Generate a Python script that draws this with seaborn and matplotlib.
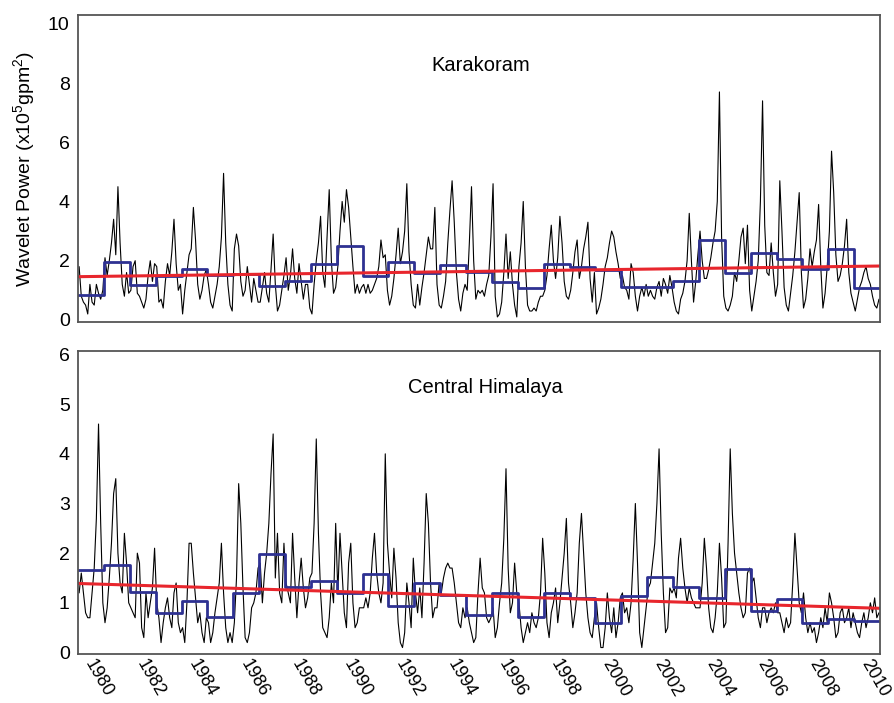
import numpy as np
import pandas as pd
import matplotlib
matplotlib.use("Agg")
import matplotlib.pyplot as plt
import matplotlib.transforms as mtransforms
import seaborn as sns

# monthly wavelet power (x10^5 gpm^2), Jan 1979 .. Dec 2009
karakoram_monthly = [
    1.8, 0.8, 0.6, 0.5, 0.2, 1.2, 0.6, 0.5, 1.2, 0.9, 0.7, 1.0,   # 1979
    2.1, 1.5, 2.0, 2.6, 3.4, 2.2, 4.5, 2.6, 1.2, 0.8, 1.6, 0.9,   # 1980
    1.0, 1.8, 2.0, 0.9, 0.8, 0.6, 0.4, 0.7, 1.5, 2.0, 1.3, 1.9,   # 1981
    1.8, 0.6, 0.7, 0.4, 1.3, 1.9, 1.5, 2.3, 3.4, 1.9, 1.0, 1.2,   # 1982
    0.2, 1.0, 1.6, 2.2, 2.4, 3.8, 2.7, 1.2, 0.7, 1.0, 1.5, 1.7,   # 1983
    1.2, 0.6, 0.4, 0.8, 1.2, 1.8, 2.8, 4.95, 2.6, 1.2, 0.5, 0.3,  # 1984
    2.4, 2.9, 2.5, 1.3, 0.8, 1.0, 1.8, 1.2, 0.6, 1.4, 1.0, 0.6,   # 1985
    0.6, 1.1, 1.6, 0.9, 0.6, 1.7, 2.9, 1.2, 0.3, 0.5, 1.0, 1.5,   # 1986
    2.1, 1.0, 1.5, 2.4, 1.4, 0.9, 1.9, 1.3, 0.7, 1.2, 1.2, 0.4,   # 1987
    0.2, 1.2, 2.0, 2.6, 3.5, 1.6, 1.1, 2.8, 4.4, 2.0, 0.9, 1.1,   # 1988
    1.8, 3.0, 4.0, 3.3, 4.4, 3.8, 2.8, 1.8, 0.9, 1.2, 0.9, 1.1,   # 1989
    1.2, 0.9, 1.2, 0.9, 1.0, 1.2, 1.4, 1.8, 2.7, 2.1, 2.2, 1.0,   # 1990
    0.5, 0.8, 1.4, 2.2, 3.1, 1.9, 2.3, 3.0, 4.6, 2.3, 1.2, 0.5,   # 1991
    0.4, 1.2, 0.5, 1.1, 1.6, 2.2, 2.8, 2.4, 2.4, 3.8, 1.2, 0.5,   # 1992
    0.4, 0.8, 1.3, 2.6, 3.7, 4.7, 3.3, 1.6, 0.7, 0.3, 0.9, 1.2,   # 1993
    1.0, 2.6, 4.5, 2.0, 0.7, 1.0, 0.9, 1.0, 0.8, 1.2, 1.5, 2.8,   # 1994
    4.6, 0.8, 0.1, 0.2, 0.6, 1.6, 2.9, 1.4, 2.3, 1.2, 0.5, 0.1,   # 1995
    1.8, 2.6, 4.0, 1.8, 0.5, 0.3, 0.3, 0.4, 0.3, 0.6, 0.8, 0.8,   # 1996
    1.0, 1.5, 2.4, 3.2, 2.0, 1.4, 2.1, 3.5, 2.6, 1.3, 0.8, 0.7,   # 1997
    1.0, 1.6, 2.3, 2.7, 1.4, 1.8, 2.4, 2.8, 3.3, 1.4, 0.6, 1.6,   # 1998
    0.2, 0.4, 0.7, 1.2, 1.8, 2.1, 2.6, 3.0, 2.8, 2.3, 1.9, 1.4,   # 1999
    1.5, 1.1, 1.0, 0.7, 1.9, 1.6, 0.8, 0.3, 0.8, 1.1, 0.8, 1.2,   # 2000
    0.8, 1.0, 0.8, 0.7, 1.1, 1.3, 0.8, 1.4, 1.2, 0.9, 1.5, 1.1,   # 2001
    0.6, 0.3, 0.2, 0.7, 0.9, 1.3, 2.0, 3.6, 2.0, 0.6, 1.3, 2.2,   # 2002
    3.0, 2.0, 1.4, 1.4, 1.7, 2.1, 2.6, 3.0, 4.0, 7.7, 2.8, 0.8,   # 2003
    0.4, 0.3, 0.5, 0.8, 1.6, 1.3, 2.0, 2.8, 3.1, 1.9, 3.2, 1.0,   # 2004
    0.3, 0.8, 1.3, 2.0, 4.0, 7.4, 3.2, 1.6, 1.5, 2.6, 1.6, 0.8,   # 2005
    1.2, 4.7, 3.0, 1.1, 0.5, 0.3, 0.9, 1.5, 2.3, 3.3, 4.3, 1.6,   # 2006
    0.4, 0.7, 1.4, 2.4, 1.8, 2.3, 2.7, 3.9, 1.8, 0.4, 0.9, 1.8,   # 2007
    3.0, 5.7, 4.3, 2.2, 1.3, 1.5, 1.9, 2.5, 3.4, 1.6, 0.9, 0.6,   # 2008
    0.3, 0.7, 1.1, 1.3, 1.6, 1.8, 1.4, 1.2, 0.8, 0.5, 0.4, 0.7,   # 2009
]

himalaya_monthly = [
    1.2, 1.6, 1.2, 0.8, 0.7, 0.7, 1.2, 1.7, 2.7, 4.6, 2.6, 1.0,   # 1979
    0.6, 0.9, 1.5, 2.2, 3.2, 3.5, 2.0, 1.4, 1.2, 2.4, 1.8, 1.0,   # 1980
    0.9, 0.8, 0.7, 2.0, 1.8, 0.5, 0.3, 1.2, 0.7, 1.0, 1.3, 2.1,   # 1981
    1.0, 0.7, 0.2, 0.6, 0.9, 1.1, 0.7, 0.5, 1.2, 1.4, 0.6, 0.4,   # 1982
    0.5, 0.2, 1.0, 2.2, 2.2, 1.6, 1.1, 0.6, 0.8, 0.4, 0.2, 0.7,   # 1983
    0.6, 0.2, 0.4, 0.8, 1.1, 1.4, 2.2, 1.2, 0.5, 0.2, 0.4, 0.2,   # 1984
    0.6, 1.5, 3.4, 2.6, 1.3, 0.3, 0.2, 0.4, 0.9, 1.0, 1.2, 1.7,   # 1985
    1.8, 1.0, 1.6, 2.0, 2.6, 3.6, 4.4, 1.5, 2.4, 1.2, 1.0, 2.2,   # 1986
    1.4, 1.2, 1.0, 2.4, 1.5, 0.7, 1.4, 1.9, 1.3, 0.9, 1.1, 1.5,   # 1987
    1.6, 2.6, 4.3, 2.4, 1.2, 0.5, 0.4, 0.3, 0.7, 1.4, 1.0, 2.6,   # 1988
    1.2, 2.4, 1.6, 0.8, 0.5, 1.8, 2.2, 1.0, 0.5, 0.6, 0.9, 0.9,   # 1989
    0.9, 1.1, 0.9, 1.2, 1.9, 2.4, 1.6, 1.2, 1.0, 1.4, 4.0, 2.2,   # 1990
    1.6, 1.1, 2.1, 1.5, 0.6, 0.2, 0.1, 0.4, 1.4, 1.0, 0.5, 1.9,   # 1991
    1.2, 0.8, 1.3, 0.7, 1.8, 3.2, 2.6, 1.4, 0.7, 0.9, 0.9, 1.4,   # 1992
    1.2, 1.5, 1.7, 1.8, 1.7, 1.7, 1.4, 1.0, 0.6, 0.5, 0.9, 0.7,   # 1993
    0.9, 0.6, 0.4, 0.2, 0.3, 1.2, 1.9, 1.3, 1.2, 0.7, 0.6, 0.7,   # 1994
    0.9, 0.3, 0.5, 1.0, 1.4, 2.3, 3.7, 1.7, 0.8, 1.0, 1.8, 1.2,   # 1995
    1.0, 0.5, 0.2, 0.4, 0.6, 0.4, 0.8, 0.6, 0.5, 0.7, 1.2, 2.3,   # 1996
    1.6, 0.6, 0.3, 0.8, 1.0, 1.3, 0.6, 1.0, 1.5, 2.0, 2.7, 1.4,   # 1997
    1.0, 0.5, 0.8, 1.2, 2.2, 2.8, 2.0, 1.2, 0.7, 0.4, 0.3, 0.7,   # 1998
    1.0, 0.5, 0.1, 0.1, 0.5, 1.2, 0.7, 0.4, 0.9, 0.3, 0.6, 1.1,   # 1999
    1.2, 0.8, 0.9, 0.6, 1.0, 1.9, 3.0, 1.8, 0.4, 0.1, 0.5, 0.9,   # 2000
    1.3, 1.4, 1.8, 2.2, 3.0, 4.1, 2.4, 1.2, 0.4, 0.5, 1.3, 1.2,   # 2001
    1.3, 1.1, 1.9, 2.3, 1.7, 1.3, 1.0, 1.3, 1.1, 1.0, 0.9, 0.9,   # 2002
    0.9, 1.4, 2.3, 1.7, 0.9, 0.5, 0.4, 0.7, 1.2, 2.2, 1.5, 0.5,   # 2003
    0.6, 2.2, 4.1, 2.8, 2.0, 1.6, 1.2, 0.9, 0.7, 0.8, 1.6, 1.7,   # 2004
    1.4, 1.5, 1.1, 0.7, 0.5, 0.9, 0.9, 0.6, 0.8, 0.9, 0.8, 1.0,   # 2005
    0.8, 0.8, 0.6, 0.4, 0.7, 0.5, 0.6, 1.4, 2.4, 1.7, 1.0, 0.8,   # 2006
    1.2, 0.7, 0.4, 0.6, 0.4, 0.5, 0.2, 0.4, 0.7, 0.5, 0.9, 0.6,   # 2007
    1.2, 1.0, 0.7, 0.3, 0.4, 0.8, 0.9, 0.6, 0.7, 0.9, 0.5, 0.8,   # 2008
    0.6, 0.4, 0.3, 0.6, 0.8, 0.5, 0.7, 1.0, 0.8, 1.1, 0.7, 0.8,   # 2009
]

# annual means (blue steps), 1979 .. 2009
years = list(range(1979, 2010))
karakoram_annual = [0.84, 1.97, 1.18, 1.49, 1.71, 1.52, 1.55, 1.13, 1.33, 1.89,
                    2.48, 1.49, 1.97, 1.58, 1.84, 1.63, 1.27, 1.07, 1.88, 1.80,
                    1.69, 1.10, 1.10, 1.30, 2.70, 1.60, 2.27, 2.05, 1.72, 2.40, 1.07]
himalaya_annual = [1.67, 1.77, 1.21, 0.80, 1.04, 0.71, 1.19, 1.98, 1.31, 1.44,
                   1.19, 1.59, 0.93, 1.39, 1.16, 0.75, 1.19, 0.71, 1.19, 1.10,
                   0.60, 1.14, 1.52, 1.32, 1.09, 1.69, 0.83, 1.07, 0.60, 0.68, 0.63]

# linear trend (red), value at start / end of record
trend_years = [1979, 2010]
karakoram_trend = [1.46, 1.82]
himalaya_trend = [1.39, 0.89]

sns.set_style("white")
plt.rcParams["font.family"] = ["Liberation Sans", "DejaVu Sans"]
plt.rcParams["mathtext.default"] = "regular"
plt.rcParams["text.color"] = "black"
plt.rcParams["axes.labelcolor"] = "black"
plt.rcParams["xtick.color"] = "black"
plt.rcParams["ytick.color"] = "black"

months = np.array([y + (m + 0.5) / 12 for y in years for m in range(12)])

fig = plt.figure(figsize=(8.95, 7.03), dpi=100)
ax1 = fig.add_axes([0.0872, 0.5420, 0.8961, 0.4367])
ax2 = fig.add_axes([0.0872, 0.0697, 0.8961, 0.4310])

panels = [
    (ax1, karakoram_monthly, karakoram_annual, karakoram_trend, "Karakoram", (0.502, 0.835)),
    (ax2, himalaya_monthly, himalaya_annual, himalaya_trend, "Central Himalaya", (0.508, 0.878)),
]

for ax, monthly, annual, trend, name, pos in panels:
    df = pd.DataFrame({"t": months, "power": monthly})
    sns.lineplot(data=df, x="t", y="power", ax=ax, color="black", linewidth=0.8)
    steps = pd.DataFrame({"t": years + [2010], "power": annual + [annual[-1]]})
    sns.lineplot(data=steps, x="t", y="power", ax=ax, color="#2E3192",
                 linewidth=2.0, drawstyle="steps-post")
    sns.lineplot(x=trend_years, y=trend, ax=ax, color="#E8262D", linewidth=2.2)
    ax.text(pos[0], pos[1], name, transform=ax.transAxes, ha="center", va="center",
            fontsize=14.5)
    ax.set_xlim(1979, 2010)
    ax.set_xlabel("")
    ax.set_ylabel("")
    ax.tick_params(axis="both", length=0, labelsize=14, pad=6)
    for sp in ax.spines.values():
        sp.set_color("#555555")
        sp.set_linewidth(1.3)

ax1.set_ylim(-0.07, 10.3)
ax1.set_yticks(range(0, 11, 2))
ax1.set_xticks([])
ax1.set_ylabel("Wavelet Power (x10$^5$gpm$^2$)", fontsize=14, labelpad=8)

ax2.set_ylim(-0.03, 6.07)
ax2.set_yticks(range(0, 7))
tick_years = list(range(1980, 2011, 2))
ax2.set_xticks(tick_years)
ax2.set_xticklabels([str(y) for y in tick_years], rotation=-60, ha="center",
                    fontsize=13)
ax2.tick_params(axis="x", pad=2)
shift = mtransforms.ScaledTranslation(-5 / 100, 0, fig.dpi_scale_trans)
for lab in ax2.get_xticklabels():
    lab.set_transform(lab.get_transform() + shift)

fig.savefig("out.png", dpi=100)
